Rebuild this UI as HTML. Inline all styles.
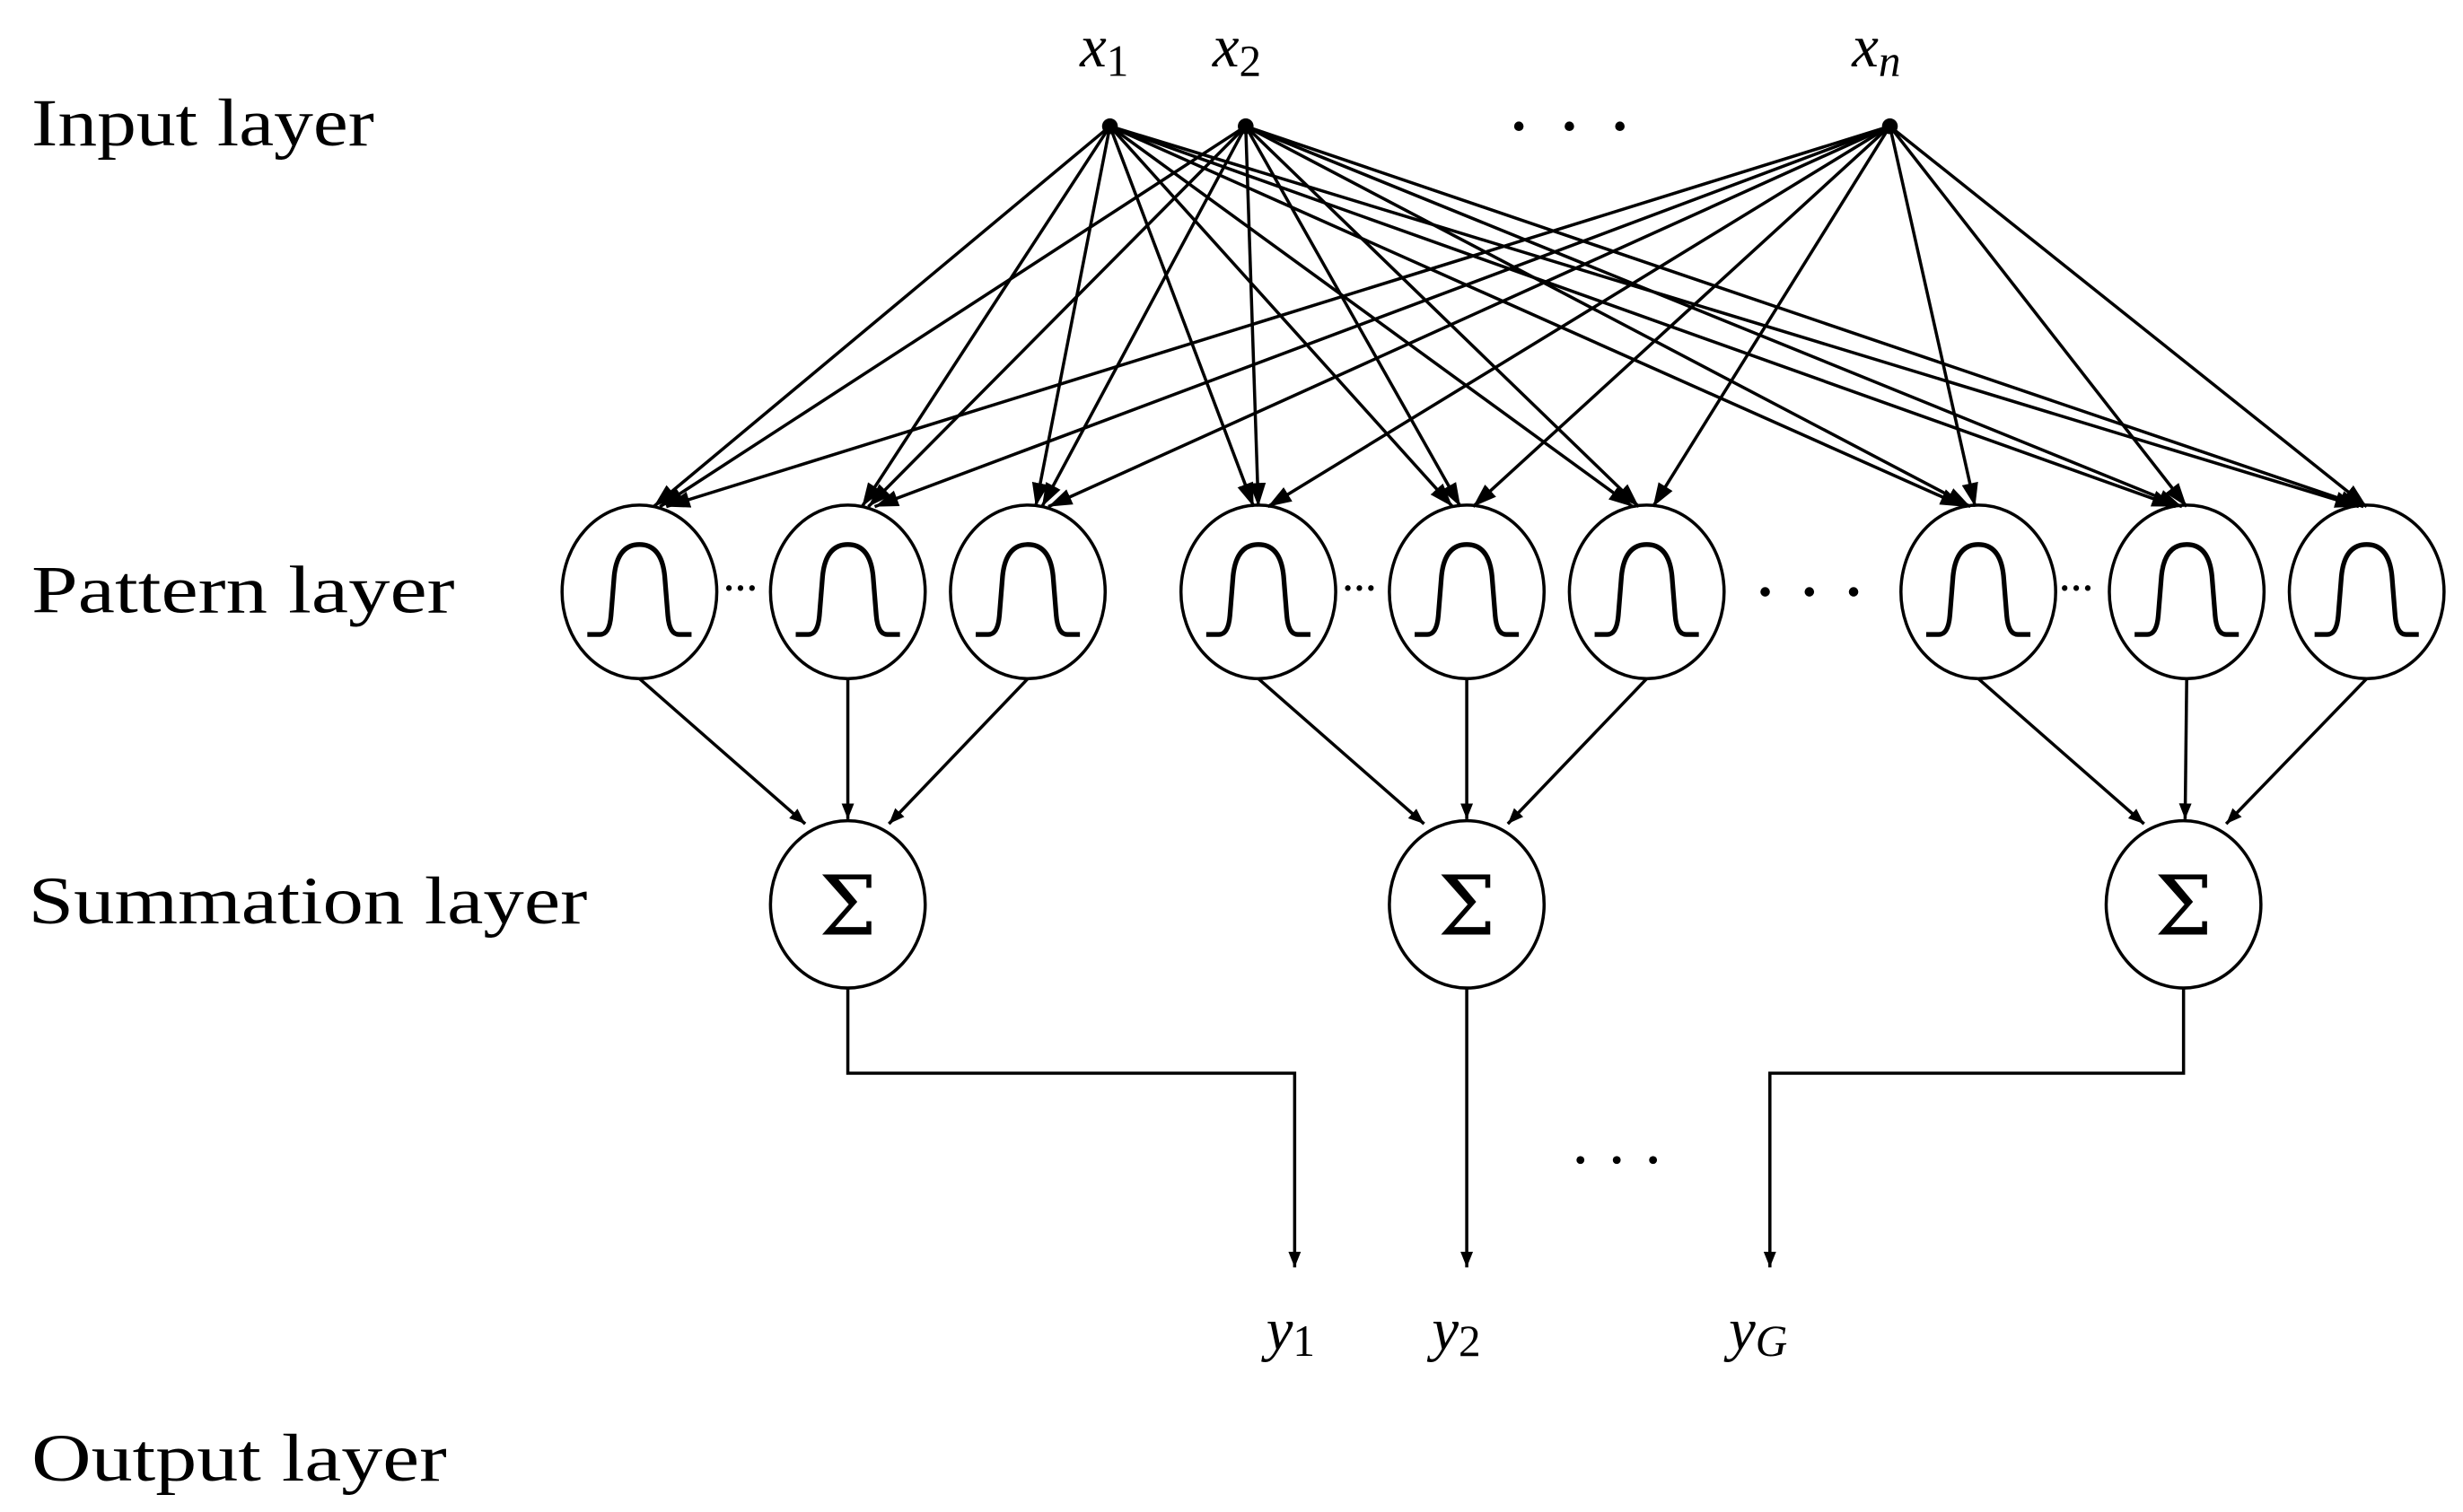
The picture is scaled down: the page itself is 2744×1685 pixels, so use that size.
<!DOCTYPE html>
<html><head><meta charset="utf-8"><style>html,body{margin:0;padding:0;background:#fff}svg{display:block}</style></head>
<body>
<svg width="2744" height="1685" viewBox="0 0 1560 958" preserveAspectRatio="none" xmlns="http://www.w3.org/2000/svg">
<defs>
<marker id="a" viewBox="0 0 10 10" refX="10" refY="5" markerWidth="10" markerHeight="10" markerUnits="userSpaceOnUse" orient="auto"><path d="M0,1 L10,5 L0,9 Z" fill="#000"/></marker>
<marker id="b" viewBox="0 0 10 10" refX="10" refY="5" markerWidth="15" markerHeight="15" markerUnits="userSpaceOnUse" orient="auto"><path d="M0,1.5 L10,5 L0,8.5 Z" fill="#000"/></marker>
<path id="bell" d="M-33,27 L-25,27 Q-19,27 -18,15 L-16,-10 Q-14,-30 0,-30 Q14,-30 16,-10 L18,15 Q19,27 25,27 L33,27"/>
</defs>
<g font-family="Liberation Serif, serif" font-size="43" fill="#000">
<text x="20" y="92" textLength="217" lengthAdjust="spacingAndGlyphs">Input layer</text>
<text x="20" y="388" textLength="268" lengthAdjust="spacingAndGlyphs">Pattern layer</text>
<text x="18" y="585" textLength="354" lengthAdjust="spacingAndGlyphs">Summation layer</text>
<text x="20" y="938" textLength="263" lengthAdjust="spacingAndGlyphs">Output layer</text>
</g>
<g font-family="Liberation Serif, serif" font-style="italic" font-size="38">
<text x="684" y="42">x<tspan font-style="normal" font-size="28" dy="6">1</tspan></text>
<text x="768" y="42">x<tspan font-style="normal" font-size="28" dy="6">2</tspan></text>
<text x="1173" y="42">x<tspan font-size="28" dy="6">n</tspan></text>
<text x="802" y="855">y<tspan font-style="normal" font-size="28" dy="4">1</tspan></text>
<text x="907" y="855">y<tspan font-style="normal" font-size="28" dy="4">2</tspan></text>
<text x="1095" y="855">y<tspan font-size="28" dy="4">G</tspan></text>
</g>
<g fill="#000">
<circle cx="703" cy="80" r="5"/><circle cx="789" cy="80" r="5"/><circle cx="1197" cy="80" r="5"/>
<circle cx="962" cy="80" r="3"/><circle cx="994" cy="80" r="3"/><circle cx="1026" cy="80" r="3"/>
<circle cx="1118" cy="375" r="3"/><circle cx="1146" cy="375" r="3"/><circle cx="1174" cy="375" r="3"/>
<circle cx="1001" cy="735" r="2.5"/><circle cx="1024" cy="735" r="2.5"/><circle cx="1047" cy="735" r="2.5"/>
</g>
<g font-family="Liberation Serif, serif" font-size="22" font-weight="bold">
<text x="458" y="380">···</text><text x="850" y="380">···</text><text x="1304" y="380">···</text>
</g>
<g stroke="#000" stroke-width="2" fill="none">
<ellipse cx="405" cy="375" rx="49" ry="55"/><ellipse cx="537" cy="375" rx="49" ry="55"/><ellipse cx="651" cy="375" rx="49" ry="55"/>
<ellipse cx="797" cy="375" rx="49" ry="55"/><ellipse cx="929" cy="375" rx="49" ry="55"/><ellipse cx="1043" cy="375" rx="49" ry="55"/>
<ellipse cx="1253" cy="375" rx="49" ry="55"/><ellipse cx="1385" cy="375" rx="49" ry="55"/><ellipse cx="1499" cy="375" rx="49" ry="55"/>
<ellipse cx="537" cy="573" rx="49" ry="53"/><ellipse cx="929" cy="573" rx="49" ry="53"/><ellipse cx="1383" cy="573" rx="49" ry="53"/>
</g>
<g stroke="#000" stroke-width="3" fill="none">
<use href="#bell" x="405" y="375"/><use href="#bell" x="537" y="375"/><use href="#bell" x="651" y="375"/>
<use href="#bell" x="797" y="375"/><use href="#bell" x="929" y="375"/><use href="#bell" x="1043" y="375"/>
<use href="#bell" x="1253" y="375"/><use href="#bell" x="1385" y="375"/><use href="#bell" x="1499" y="375"/>
</g>
<g font-family="DejaVu Serif, serif" font-size="52" text-anchor="middle">
<text x="537" y="592">Σ</text><text x="929" y="592">Σ</text><text x="1383" y="592">Σ</text>
</g>
<g stroke="#000" stroke-width="2" fill="none" marker-end="url(#a)">
<line x1="405" y1="430" x2="510" y2="522"/><line x1="537" y1="430" x2="537" y2="519"/><line x1="651" y1="430" x2="563" y2="522"/>
<line x1="797" y1="430" x2="902" y2="522"/><line x1="929" y1="430" x2="929" y2="519"/><line x1="1043" y1="430" x2="955" y2="522"/>
<line x1="1253" y1="430" x2="1358" y2="522"/><line x1="1385" y1="430" x2="1384" y2="519"/><line x1="1499" y1="430" x2="1410" y2="522"/>
<path d="M537,626 L537,680 L820,680 L820,803"/>
<path d="M929,626 L929,803"/>
<path d="M1383,626 L1383,680 L1121,680 L1121,803"/>
</g>
<g stroke="#000" stroke-width="2" fill="none" marker-end="url(#b)">
<line x1="703" y1="80" x2="414" y2="321"/><line x1="703" y1="80" x2="546" y2="321"/><line x1="703" y1="80" x2="656" y2="321"/>
<line x1="703" y1="80" x2="794" y2="321"/><line x1="703" y1="80" x2="920" y2="321"/><line x1="703" y1="80" x2="1034" y2="321"/>
<line x1="703" y1="80" x2="1244" y2="321"/><line x1="703" y1="80" x2="1378" y2="321"/><line x1="703" y1="80" x2="1494" y2="321"/>
<line x1="789" y1="80" x2="418" y2="321"/><line x1="789" y1="80" x2="550" y2="321"/><line x1="789" y1="80" x2="660" y2="321"/>
<line x1="789" y1="80" x2="797" y2="321"/><line x1="789" y1="80" x2="925" y2="321"/><line x1="789" y1="80" x2="1038" y2="321"/>
<line x1="789" y1="80" x2="1248" y2="321"/><line x1="789" y1="80" x2="1382" y2="321"/><line x1="789" y1="80" x2="1497" y2="321"/>
<line x1="1197" y1="80" x2="422" y2="321"/><line x1="1197" y1="80" x2="554" y2="321"/><line x1="1197" y1="80" x2="664" y2="321"/>
<line x1="1197" y1="80" x2="803" y2="321"/><line x1="1197" y1="80" x2="933" y2="321"/><line x1="1197" y1="80" x2="1047" y2="321"/>
<line x1="1197" y1="80" x2="1251" y2="321"/><line x1="1197" y1="80" x2="1385" y2="321"/><line x1="1197" y1="80" x2="1499" y2="321"/>
</g>
</svg>
</body></html>
